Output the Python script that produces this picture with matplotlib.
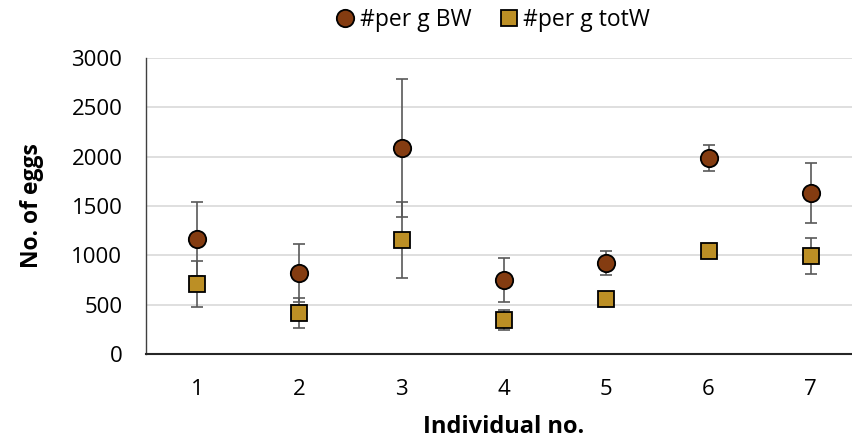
import matplotlib
matplotlib.use("Agg")
import matplotlib.pyplot as plt
from matplotlib.lines import Line2D

individuals = [1, 2, 3, 4, 5, 6, 7]
per_g_bw = [1162, 821, 2088, 750, 922, 1983, 1635]
per_g_bw_err = [375, 297, 695, 228, 126, 133, 304]
per_g_totw = [706, 415, 1155, 345, 557, 1040, 993]
per_g_totw_err = [233, 148, 385, 105, 20, 20, 184]
series_names = ["#per g BW", "#per g totW"]
yticks = [0, 500, 1000, 1500, 2000, 2500, 3000]

plt.rcParams['font.family'] = ['Open Sans', 'DejaVu Sans']

fig = plt.figure(figsize=(8.52, 4.41), dpi=100)
ax = fig.add_axes([146/852, 1 - 354/441, 716/852, 296/441])

c_bw = '#843C11'
c_tot = '#BC8F25'
ecol = '#595959'

ax.errorbar(individuals, per_g_totw, yerr=per_g_totw_err, fmt='none', ecolor=ecol,
            elinewidth=1.2, capsize=4, capthick=1.2, zorder=2)
ax.errorbar(individuals, per_g_bw, yerr=per_g_bw_err, fmt='none', ecolor=ecol,
            elinewidth=1.2, capsize=4, capthick=1.2, zorder=2)
ax.plot(individuals, per_g_bw, linestyle='none', marker='o', markersize=12.5,
        markerfacecolor=c_bw, markeredgecolor='black', markeredgewidth=1.3, zorder=4)
ax.plot(individuals, per_g_totw, linestyle='none', marker='s', markersize=11.5,
        markerfacecolor=c_tot, markeredgecolor='black', markeredgewidth=1.3, zorder=3)

ax.set_xlim(0.5, 7.5)
ax.set_ylim(0, 3000)
ax.set_yticks(yticks)
ax.set_xticks(individuals)
ax.yaxis.grid(True, color='#D9D9D9', linewidth=1.2)
ax.set_axisbelow(True)
for s in ['top', 'right']:
    ax.spines[s].set_visible(False)
ax.spines['left'].set_color('#404040')
ax.spines['bottom'].set_color('#262626')
ax.spines['left'].set_linewidth(1.0)
ax.spines['bottom'].set_linewidth(1.5)
ax.tick_params(axis='both', length=0, labelsize=16, colors='black')
ax.tick_params(axis='y', pad=17)
ax.tick_params(axis='x', pad=18)

ax.set_xlabel("Individual no.", fontsize=17, fontweight='bold', labelpad=11)
ax.set_ylabel("No. of eggs", fontsize=16.5, fontweight='bold', labelpad=20)

handles = [
    Line2D([], [], linestyle='none', marker='o', markersize=12.5, markerfacecolor=c_bw,
           markeredgecolor='black', markeredgewidth=1.3),
    Line2D([], [], linestyle='none', marker='s', markersize=11.5, markerfacecolor=c_tot,
           markeredgecolor='black', markeredgewidth=1.3),
]
fig.legend(handles, series_names, loc='center', bbox_to_anchor=(491/852, 1 - 20/441),
           ncol=2, frameon=False, fontsize=16.5, handletextpad=0.05, columnspacing=1.0,
           handlelength=1.2)

fig.savefig("out.png", dpi=100)
